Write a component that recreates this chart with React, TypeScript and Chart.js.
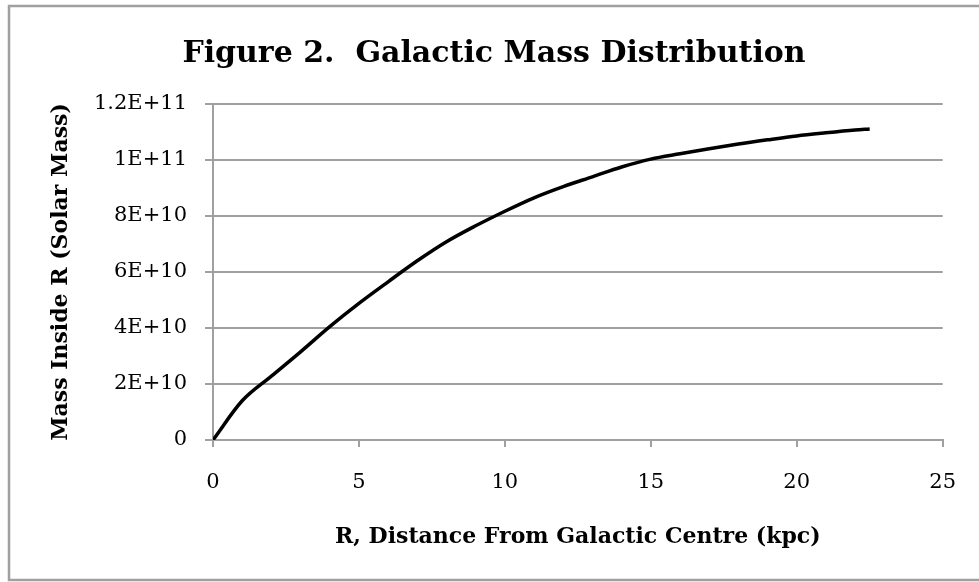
import React, { useEffect, useRef } from "react";
import { Chart, registerables } from "chart.js";

Chart.register(...registerables);

const chartTitle = "Figure 2.  Galactic Mass Distribution";
const xAxisTitle = "R, Distance From Galactic Centre (kpc)";
const yAxisTitle = "Mass Inside R (Solar Mass)";

const radiusKpc = [0, 1, 2, 3, 4, 5, 6, 7, 8, 9, 10, 11, 12, 13, 14, 15, 16, 17, 18, 19, 20, 21, 22, 22.5];
const massSolar = [
  0, 1.4e10, 2.28e10, 3.15e10, 4.05e10, 4.88e10, 5.65e10, 6.4e10, 7.08e10, 7.65e10, 8.17e10,
  8.65e10, 9.05e10, 9.4e10, 9.75e10, 1.003e11, 1.022e11, 1.04e11, 1.057e11, 1.072e11, 1.086e11,
  1.097e11, 1.107e11, 1.111e11,
];

const yTickValues = [0, 2e10, 4e10, 6e10, 8e10, 1e11, 1.2e11];
const yTickLabels = ["0", "2E+10", "4E+10", "6E+10", "8E+10", "1E+11", "1.2E+11"];
const xTickValues = [0, 5, 10, 15, 20, 25];
const xTickLabels = ["0", "5", "10", "15", "20", "25"];

const FONT = "'DejaVu Serif', serif";
const GRID = "#a0a0a0";

const frame = {
  id: "frame",
  beforeDraw(chart: any) {
    const { ctx, width, height } = chart;
    ctx.save();
    ctx.fillStyle = "#ffffff";
    ctx.fillRect(0, 0, width, height);
    ctx.strokeStyle = GRID;
    ctx.lineWidth = 2.5;
    ctx.beginPath();
    ctx.moveTo(width + 5, 6);
    ctx.lineTo(9, 6);
    ctx.lineTo(9, 580);
    ctx.lineTo(width + 5, 580);
    ctx.stroke();
    ctx.restore();
  },
};

export default function App() {
  const ref = useRef<HTMLCanvasElement>(null);

  useEffect(() => {
    if (!ref.current) return;
    const points = radiusKpc.map((r, i) => ({ x: r, y: massSolar[i] }));
    const chart = new Chart(ref.current, {
      type: "line",
      data: {
        datasets: [
          {
            label: "Mass",
            data: points,
            borderColor: "#000000",
            borderWidth: 3.5,
            pointRadius: 0,
            fill: false,
            cubicInterpolationMode: "monotone",
          },
        ],
      },
      options: {
        animation: false,
        responsive: false,
        devicePixelRatio: 1,
        layout: { padding: { left: 40, right: 31, top: 0, bottom: 0 } },
        plugins: {
          legend: { display: false },
          tooltip: { enabled: false },
          title: {
            display: true,
            text: chartTitle,
            color: "#000000",
            font: { family: FONT, size: 30, weight: "bold", lineHeight: 1.2 },
            padding: { top: 36, bottom: 32 },
          },
        },
        scales: {
          x: {
            type: "linear",
            min: 0,
            max: 25,
            afterBuildTicks: (scale: any) => {
              scale.ticks = xTickValues.map((v) => ({ value: v }));
            },
            afterFit: (scale: any) => {
              scale.height = 142;
            },
            ticks: {
              color: "#000000",
              font: { family: FONT, size: 21 },
              padding: 23,
              maxRotation: 0,
              callback: (v: any) => {
                const i = xTickValues.indexOf(Number(v));
                return i >= 0 ? xTickLabels[i] : "";
              },
            },
            grid: {
              drawOnChartArea: false,
              drawTicks: true,
              tickLength: 7,
              color: GRID,
              lineWidth: 2,
            },
            border: { display: true, color: GRID, width: 2 },
            title: {
              display: true,
              text: xAxisTitle,
              color: "#000000",
              font: { family: FONT, size: 22, weight: "bold", lineHeight: 1.2 },
              padding: { top: 0, bottom: 32 },
            },
          },
          y: {
            type: "linear",
            min: 0,
            max: 1.2e11,
            afterBuildTicks: (scale: any) => {
              scale.ticks = yTickValues.map((v) => ({ value: v }));
            },
            afterFit: (scale: any) => {
              scale.width = 173;
            },
            ticks: {
              color: "#000000",
              font: { family: FONT, size: 21 },
              padding: 18,
              callback: (v: any) => {
                const i = yTickValues.indexOf(Number(v));
                return i >= 0 ? yTickLabels[i] : "";
              },
            },
            grid: {
              drawOnChartArea: true,
              drawTicks: true,
              tickLength: 8,
              color: GRID,
              lineWidth: 2,
            },
            border: { display: true, color: GRID, width: 2 },
            title: {
              display: true,
              text: yAxisTitle,
              color: "#000000",
              font: { family: FONT, size: 22, weight: "bold", lineHeight: 1.2 },
              padding: { top: 8, bottom: 0 },
            },
          },
        },
      },
      plugins: [frame],
    });
    return () => chart.destroy();
  }, []);

  return (
    <div style={{ position: "fixed", left: 0, top: 0, width: 979, height: 582, background: "#fff" }}>
      <canvas ref={ref} width={979} height={582} style={{ width: 979, height: 582, display: "block" }} />
    </div>
  );
}
